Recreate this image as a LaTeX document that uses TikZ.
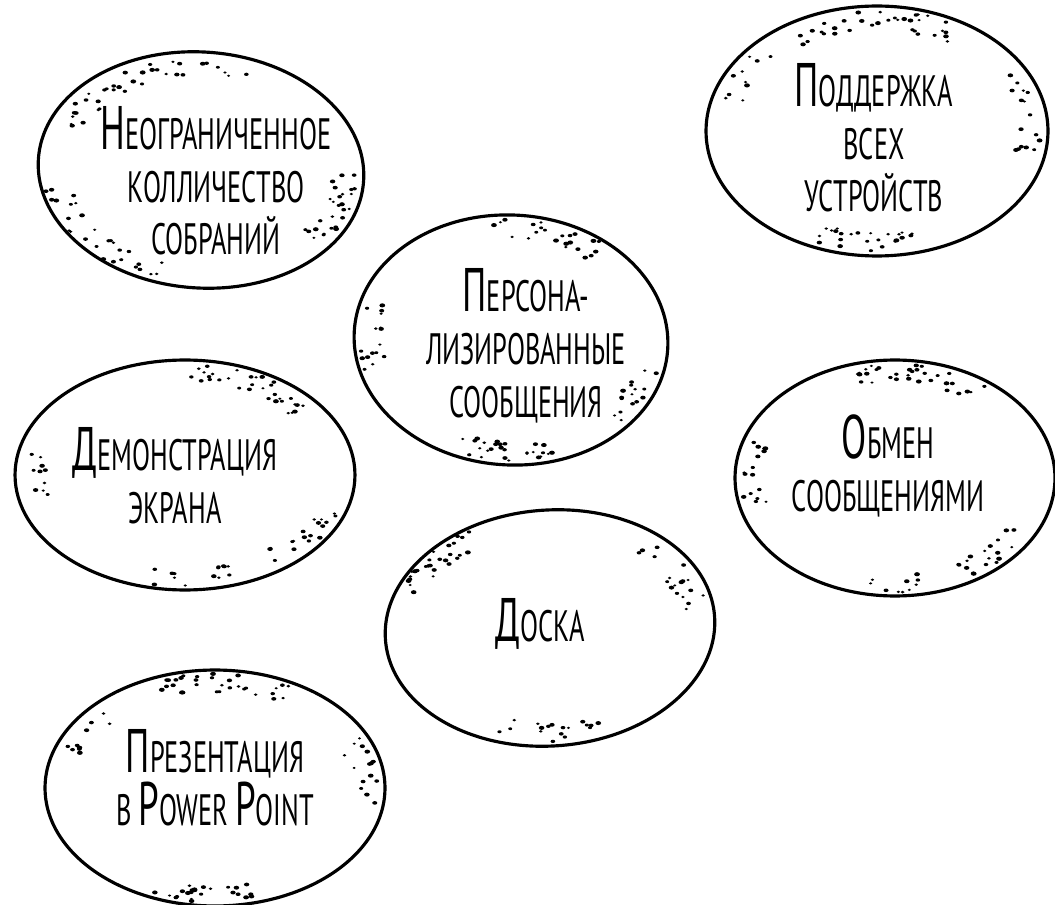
\documentclass[tikz,border=0pt]{standalone}
\usepackage{fontspec}
\setmainfont{PT Sans}[FakeStretch=0.6]
\usetikzlibrary{shapes.geometric,calc}
\newcommand\capword[2]{{\fontsize{35}{31}\selectfont #1}#2}
\newcommand\speckle[6]{% center, rx, ry, from, to, count
 \foreach \i in {1,...,#6}{
  \pgfmathsetmacro\sa{#4+rnd*(#5-#4)}
  \pgfmathsetmacro\sr{0.81+0.16*rnd}
  \pgfmathsetmacro\sd{0.65+0.55*rnd}
  \fill ($(#1)+(\sa:{#2*\sr} and {#3*\sr})$) ellipse ({1.4*\sd pt} and {\sd pt});
 }}
\tikzset{bubble/.style={ellipse,draw,line width=1.8pt,inner sep=0pt},
 caption/.style={align=center,font=\fontsize{25}{30}\selectfont}}
\begin{document}
\begin{tikzpicture}[x=0.02cm,y=-0.02cm]
\pgfmathsetseed{4242}
\useasboundingbox (0,0) rectangle (1055,905);
% top row
\node[bubble,minimum width=6.52cm,minimum height=4.72cm,rotate=-4] (meet) at (201,170) {};
\node[caption] (meet-t) at (216,181) {\capword{Н}{ЕОГРАНИЧЕННОЕ}\\КОЛЛИЧЕСТВО\\СОБРАНИЙ};
\speckle{meet}{163}{118}{205}{290}{36}
\speckle{meet}{163}{118}{2}{42}{28}
\speckle{meet}{163}{118}{105}{170}{28}
\node[bubble,minimum width=6.84cm,minimum height=5cm] (device) at (877,131) {};
\node[caption] (device-t) at (874,138) {\capword{П}{ОДДЕРЖКА}\\ВСЕХ\\УСТРОЙСТВ};
\speckle{device}{171}{125}{235}{300}{34}
\speckle{device}{171}{125}{195}{225}{10}
\speckle{device}{171}{125}{-30}{15}{16}
\speckle{device}{171}{125}{75}{112}{24}
% middle
\node[bubble,minimum width=6.28cm,minimum height=5cm,rotate=-3] (person) at (511,340) {};
\node[caption] (person-t) at (526,346) {\capword{П}{ЕРСОНА-}\\ЛИЗИРОВАННЫЕ\\СООБЩЕНИЯ};
\speckle{person}{157}{125}{262}{310}{24}
\speckle{person}{157}{125}{165}{200}{16}
\speckle{person}{157}{125}{70}{112}{28}
\speckle{person}{157}{125}{15}{45}{16}
\node[bubble,minimum width=6.8cm,minimum height=4.6cm] (screen) at (185,475) {};
\node[caption] (screen-t) at (175,476) {\capword{Д}{ЕМОНСТРАЦИЯ}\\ЭКРАНА};
\speckle{screen}{170}{115}{270}{320}{32}
\speckle{screen}{170}{115}{168}{192}{10}
\speckle{screen}{170}{115}{20}{55}{18}
\speckle{screen}{170}{115}{70}{105}{14}
\node[bubble,minimum width=6.4cm,minimum height=4.72cm] (chat) at (895,478) {};
\node[caption] (chat-t) at (888,466) {\capword{О}{БМЕН}\\СООБЩЕНИЯМИ};
\speckle{chat}{160}{118}{255}{310}{34}
\speckle{chat}{160}{118}{165}{200}{16}
\speckle{chat}{160}{118}{25}{65}{18}
\speckle{chat}{160}{118}{80}{100}{10}
% bottom
\node[bubble,minimum width=6.6cm,minimum height=4.72cm,rotate=4] (board) at (550,628) {};
\node[caption] (board-t) at (540,624) {\capword{Д}{ОСКА}};
\speckle{board}{165}{118}{200}{250}{28}
\speckle{board}{165}{118}{305}{350}{18}
\speckle{board}{165}{118}{68}{110}{18}
\node[bubble,minimum width=6.8cm,minimum height=4.72cm] (slides) at (215,788) {};
\node[caption] (slides-t) at (215,778) {\capword{П}{РЕЗЕНТАЦИЯ}\\В \capword{P}{OWER} \capword{P}{OINT}};
\speckle{slides}{170}{118}{245}{300}{32}
\speckle{slides}{170}{118}{200}{232}{10}
\speckle{slides}{170}{118}{-30}{12}{16}
\speckle{slides}{170}{118}{75}{112}{24}
\end{tikzpicture}
\end{document}
